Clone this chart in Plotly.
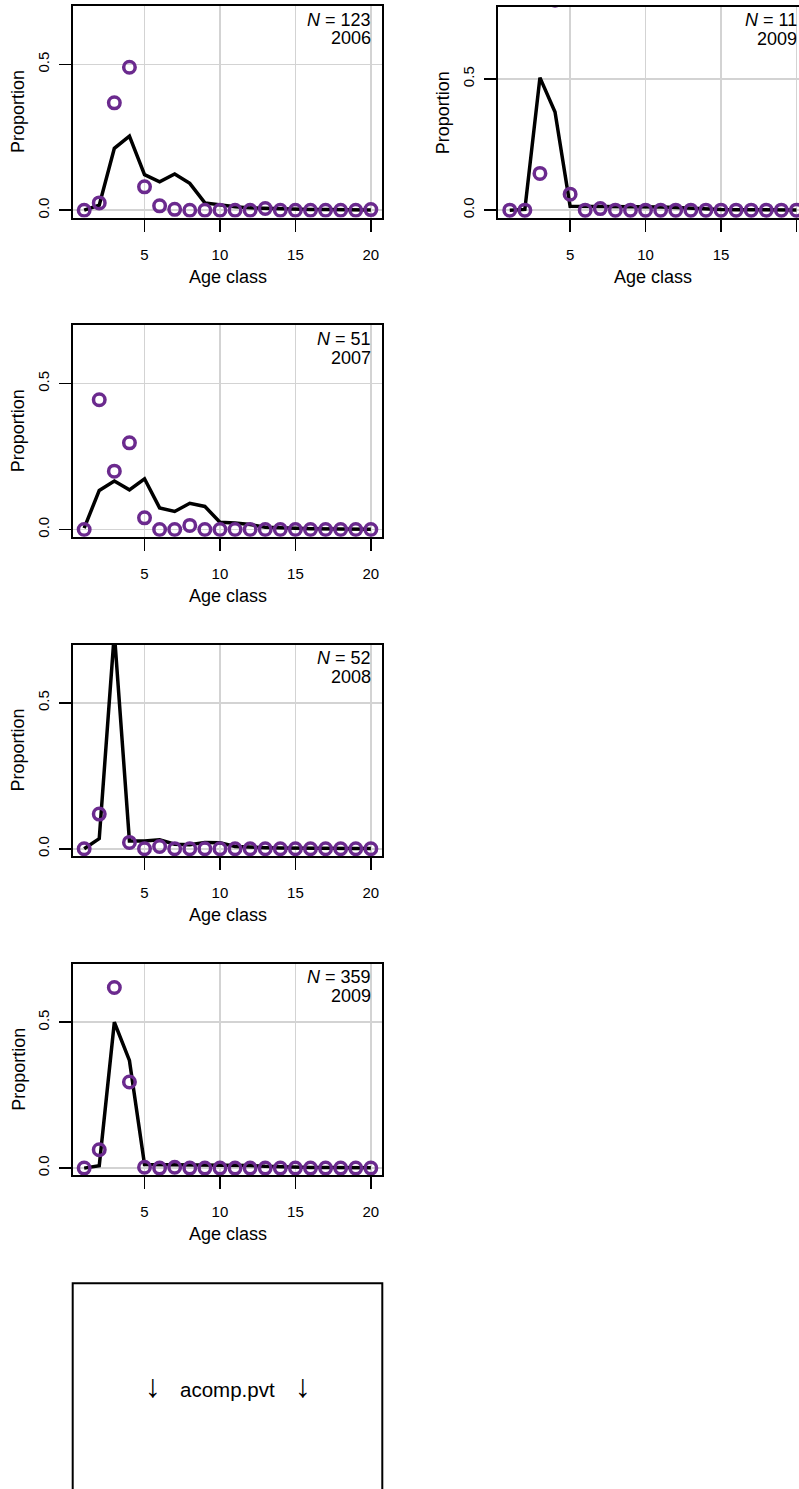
import plotly.graph_objects as go

ages = list(range(1, 21))

# Observed (points) and predicted (lines) proportions at age
obs_2006 = [0, 0.025, 0.368, 0.490, 0.080, 0.015, 0.003, 0, 0, 0, 0, 0, 0.006, 0, 0, 0, 0, 0, 0, 0.002]
pred_2006 = [0.0, 0.017, 0.212, 0.254, 0.122, 0.097, 0.124, 0.092, 0.025, 0.018, 0.012, 0.008,
             0.006, 0.004, 0.003, 0.002, 0.002, 0.001, 0.001, 0.001]

obs_2007 = [0, 0.445, 0.200, 0.297, 0.040, 0, 0, 0.014, 0, 0, 0, 0, 0, 0, 0, 0, 0, 0, 0, 0]
pred_2007 = [0.005, 0.134, 0.166, 0.136, 0.174, 0.074, 0.062, 0.090, 0.079, 0.025, 0.022, 0.017,
             0.008, 0.005, 0.004, 0.003, 0.002, 0.002, 0.001, 0.001]

obs_2008 = [0, 0.119, 0.850, 0.022, 0, 0.008, 0, 0, 0, 0, 0, 0, 0, 0, 0, 0, 0, 0, 0, 0]
pred_2008 = [0.0, 0.035, 0.740, 0.027, 0.027, 0.031, 0.016, 0.014, 0.022, 0.021, 0.008, 0.005,
             0.004, 0.003, 0.002, 0.002, 0.001, 0.001, 0.001, 0.001]

obs_2009 = [0, 0.063, 0.619, 0.295, 0.003, 0, 0.003, 0, 0, 0, 0, 0, 0, 0, 0, 0, 0, 0, 0, 0]
pred_2009 = [0.0, 0.008, 0.500, 0.369, 0.012, 0.012, 0.012, 0.012, 0.012, 0.012, 0.011, 0.009,
             0.006, 0.004, 0.003, 0.002, 0.002, 0.001, 0.001, 0.001]

obs_2009b = [0, 0, 0.140, 0.800, 0.061, 0, 0.006, 0, 0, 0, 0, 0, 0, 0, 0, 0, 0, 0, 0, 0]
pred_2009b = [0.0, 0.003, 0.505, 0.374, 0.015, 0.015, 0.015, 0.014, 0.013, 0.013, 0.012, 0.010,
              0.007, 0.005, 0.003, 0.002, 0.002, 0.001, 0.001, 0.001]

years = ["2006", "2007", "2008", "2009", "2009"]
sample_sizes = ["123", "51", "52", "359", "11"]
x_ticks = [5, 10, 15, 20]
y_ticks = [0, 0.5]
y_tick_text = ["0.0", "0.5"]

W, H = 799, 1489
FONT = "Liberation Sans, Arial, Helvetica, sans-serif"
PURPLE = "#6b2a8e"
GRID = "#d3d3d3"

# panel geometry in pixels: (left, right, top, bottom, xrange, yrange)
LEFT_L, LEFT_R = 72.7, 382.3
XR = [0.24, 20.76]
XPU = (LEFT_R - LEFT_L) / (XR[1] - XR[0])
panels = []
tops = [6.0, 325.3, 644.6, 963.9]
for t in tops:
    panels.append((LEFT_L, LEFT_R, t, t + 211.5, XR, [-0.025, 0.700]))
# right-hand panel, cut by the page edge
RL = 498.3
panels.append((RL, W, 6.5, 218.3, [XR[0], XR[0] + (W - RL) / XPU], [-0.031, 0.776]))

series = [(obs_2006, pred_2006), (obs_2007, pred_2007), (obs_2008, pred_2008),
          (obs_2009, pred_2009), (obs_2009b, pred_2009b)]

fig = go.Figure()
annotations = []
shapes = []
for i, ((l, r, t, b, xr, yr), (obs, pred)) in enumerate(zip(panels, series), start=1):
    xa = "x" if i == 1 else f"x{i}"
    ya = "y" if i == 1 else f"y{i}"
    fig.add_trace(go.Scatter(x=ages, y=pred, mode="lines", xaxis=xa, yaxis=ya,
                             line=dict(color="black", width=3.5), showlegend=False))
    fig.add_trace(go.Scatter(x=ages, y=obs, mode="markers", xaxis=xa, yaxis=ya,
                             marker=dict(symbol="circle-open", size=11.5, color=PURPLE,
                                         line=dict(width=3.5, color=PURPLE)),
                             showlegend=False))
    is_right = (i == 5)
    fig.update_layout(**{
        ("xaxis" if i == 1 else f"xaxis{i}"): dict(
            domain=[l / W, r / W], range=xr, anchor=ya,
            tickvals=x_ticks, ticks="outside", ticklen=12, tickwidth=1.5, tickcolor="black",
            showgrid=True, gridcolor=GRID, gridwidth=1.5, zeroline=False,
            showline=True, linecolor="black", linewidth=2, mirror=True,
            tickfont=dict(size=15, color="black", family=FONT), ticklabelstandoff=10,
            fixedrange=True),
        ("yaxis" if i == 1 else f"yaxis{i}"): dict(
            domain=[1 - b / H, 1 - t / H], range=yr, anchor=xa,
            tickvals=y_ticks, ticktext=y_tick_text, tickangle=-90,
            ticks="outside", ticklen=12, tickwidth=1.5, tickcolor="black",
            showgrid=True, gridcolor=GRID, gridwidth=1.5, zeroline=False,
            showline=True, linecolor="black", linewidth=2, mirror=(not is_right),
            tickfont=dict(size=15, color="black", family=FONT), ticklabelstandoff=4,
            fixedrange=True),
    })
    box_w = (LEFT_R - LEFT_L)
    # N and year labels (top-right inside the box)
    xpos = (l + box_w - 9) / W
    annotations.append(dict(text=f"<i>N</i> = {sample_sizes[i-1]}", xref="paper", yref="paper",
                            x=xpos, y=1 - (t + 13.5) / H, xanchor="right", yanchor="middle",
                            showarrow=False, font=dict(size=18, color="black", family=FONT)))
    annotations.append(dict(text=years[i-1], xref="paper", yref="paper",
                            x=xpos, y=1 - (t + 32.2) / H, xanchor="right", yanchor="middle",
                            showarrow=False, font=dict(size=18, color="black", family=FONT)))
    # axis titles
    annotations.append(dict(text="Proportion", xref="paper", yref="paper",
                            x=(l - 54.5) / W, y=1 - (t + b) / 2 / H, textangle=-90,
                            xanchor="center", yanchor="middle", showarrow=False,
                            font=dict(size=18, color="black", family=FONT)))
    annotations.append(dict(text="Age class", xref="paper", yref="paper",
                            x=(l + box_w / 2) / W, y=1 - (b + 59) / H,
                            xanchor="center", yanchor="middle", showarrow=False,
                            font=dict(size=18, color="black", family=FONT)))

# bottom text panel
shapes.append(dict(type="rect", xref="paper", yref="paper",
                   x0=LEFT_L / W, x1=LEFT_R / W, y0=-0.05, y1=1 - 1283.2 / H,
                   line=dict(color="black", width=2), fillcolor="rgba(0,0,0,0)"))
for txt, xp, sz, yc in [("\u2193", 153, 32, 1386), ("acomp.pvt", 227.5, 20.5, 1389),
                        ("\u2193", 303, 32, 1386)]:
    annotations.append(dict(text=txt, xref="paper", yref="paper", x=xp / W, y=1 - yc / H,
                            xanchor="center", yanchor="middle", showarrow=False,
                            font=dict(size=sz, color="black", family=FONT)))

fig.update_layout(width=W, height=H, autosize=False,
                  margin=dict(l=0, r=0, t=0, b=0),
                  paper_bgcolor="white", plot_bgcolor="white",
                  annotations=annotations, shapes=shapes,
                  font=dict(family=FONT, color="black"))

fig.write_html("out.html", config={"displayModeBar": False, "staticPlot": True},
               post_script="document.body.style.margin='0';document.body.style.overflow='hidden';")
